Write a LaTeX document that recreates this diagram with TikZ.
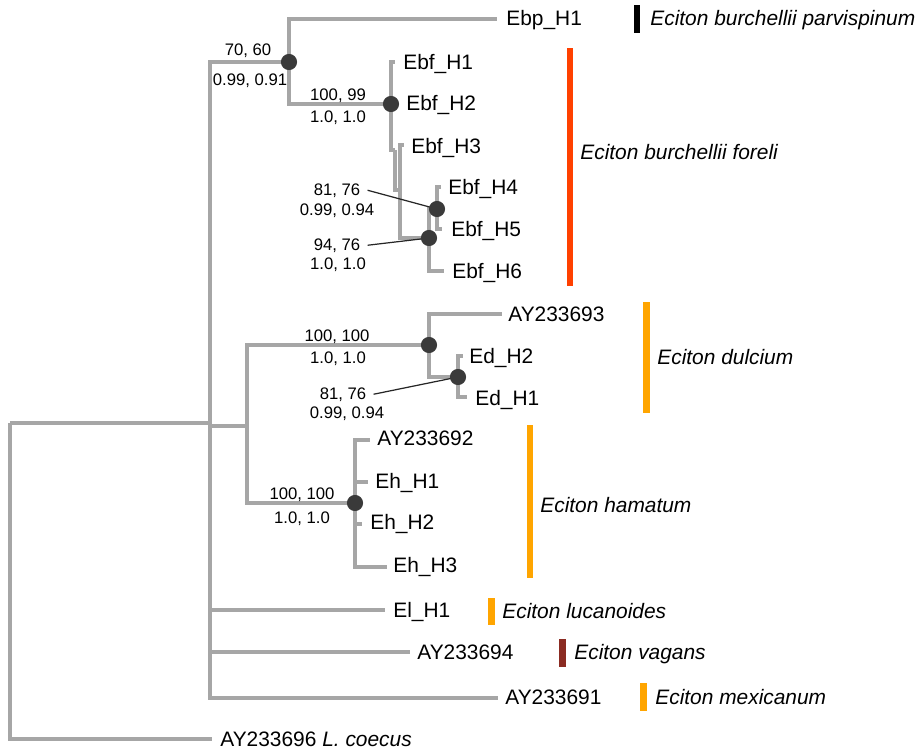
\documentclass[tikz,border=0pt]{standalone}
\usepackage{fontspec}
\setmainfont{Liberation Sans}
\usetikzlibrary{positioning}
\definecolor{brgray}{HTML}{A6A6A6}
\definecolor{dotgray}{HTML}{3A3A3A}
\definecolor{forelired}{HTML}{FF4000}
\definecolor{ecorange}{HTML}{FFA500}
\definecolor{vagred}{HTML}{8B2B22}
\tikzset{
  branch/.style={draw=brgray,line width=2.3pt},
  bsdot/.style={circle,fill=dotgray,inner sep=0pt,minimum size=9.2pt},
  leaf/.style={anchor=base west,inner sep=0pt,font=\fontsize{11.9}{14}\selectfont},
  spec/.style={anchor=base west,inner sep=0pt,font=\fontsize{11.9}{14}\selectfont\itshape},
  bsval/.style={anchor=base,inner sep=2pt,font=\fontsize{9.5}{11}\selectfont},
  lead/.style={draw=black!85,line width=0.7pt},
  cladebar/.style={line width=3.6pt}
}

\begin{document}
\begin{tikzpicture}[x=0.02cm,y=-0.02cm]
\useasboundingbox (0,0) rectangle (918,751);

% internal nodes
\coordinate (rt) at (10,423);
\coordinate (crown) at (210,423);
\coordinate (n7060) at (289,62);
\coordinate (n10099) at (391,104);
\coordinate (s1) at (395,150);
\coordinate (s2) at (400,190);
\coordinate (n9476) at (429,238);
\coordinate (n8176a) at (437,209);
\coordinate (ndh) at (247,426);
\coordinate (n100a) at (429,345);
\coordinate (n8176b) at (458,377);
\coordinate (n100b) at (355,503);

% tips
\foreach \nm/\x/\y in {tEbp/497/19,tEbf1/395/62,tEbf3/404/145,tEbf4/441/187,
  tEbf5/442/229,tEbf6/444/271,tAY3/502/314,tEd2/463/356,tEd1/467/397,
  tAY2/370/440,tEh1/368/482,tEh2/362/524,tEh3/387/567,tEl/385/610,
  tAY4/410/652,tAY1/498/698,tcoe/212/739}
  \coordinate (\nm) at (\x,\y);

% branches
\foreach \p/\c in {rt/crown,rt/tcoe,crown/n7060,crown/ndh,crown/tEl,crown/tAY4,
  crown/tAY1,n7060/tEbp,n7060/n10099,n10099/tEbf1,n10099/s1,s1/s2,s2/tEbf3,
  s2/n9476,n9476/n8176a,n9476/tEbf6,n8176a/tEbf4,n8176a/tEbf5,ndh/n100a,
  ndh/n100b,n100a/tAY3,n100a/n8176b,n8176b/tEd2,n8176b/tEd1,n100b/tAY2,
  n100b/tEh1,n100b/tEh2,n100b/tEh3}
  \draw[branch] (\p) |- (\c);

% support values
\foreach \nm/\x/\y/\t in {u7060/248/55/{70, 60},d7060/250/85/{0.99, 0.91},
  u10099/338/100/{100, 99},d10099/338/122/{1.0, 1.0},
  u8176a/337/195/{81, 76},d8176a/337/215/{0.99, 0.94},
  u9476/337/250/{94, 76},d9476/338/269/{1.0, 1.0},
  u100a/337/341/{100, 100},d100a/338/363/{1.0, 1.0},
  u8176b/343/399/{81, 76},d8176b/347/418/{0.99, 0.94},
  u100b/302/499/{100, 100},d100b/302/523/{1.0, 1.0}}
  \node[bsval] (\nm) at (\x,\y) {\t};

\draw[lead] ([xshift=2pt]u8176a.east) -- (n8176a);
\draw[lead] ([xshift=2pt]u9476.east) -- (n9476);
\draw[lead] ([xshift=2pt]u8176b.east) -- (n8176b);

\foreach \nm in {n7060,n10099,n8176a,n9476,n100a,n8176b,n100b}
  \node[bsdot] (c\nm) at (\nm) {};

% tip labels
\foreach \nm/\x/\y/\t in {lEbp/506/25/{Ebp\_H1},lEbf1/403/69/{Ebf\_H1},
  lEbf2/406/110/{Ebf\_H2},lEbf3/411/153/{Ebf\_H3},lEbf4/448/194/{Ebf\_H4},
  lEbf5/451/236/{Ebf\_H5},lEbf6/452/278/{Ebf\_H6},lAY3/508/321/{AY233693},
  lEd2/469/363/{Ed\_H2},lEd1/475/405/{Ed\_H1},lAY2/377/445/{AY233692},
  lEh1/375/488/{Eh\_H1},lEh2/370/529/{Eh\_H2},lEh3/393/572/{Eh\_H3},
  lEl/393/617/{El\_H1},lAY4/417/659/{AY233694},lAY1/505/704/{AY233691},
  lcoe/220/746/{AY233696 \textit{L. coecus}}}
  \node[leaf] (\nm) at (\x,\y) {\t};

% clade bars
\foreach \nm/\bx/\yt/\yb/\c/\lx/\ly/\t in {
  parv/637/5/33/black/650/25/{Eciton burchellii parvispinum},
  fore/570/48/286/forelired/580/159/{Eciton burchellii foreli},
  dulc/646.5/302/413/ecorange/657/364/{Eciton dulcium},
  hama/530/425/578/ecorange/540/512/{Eciton hamatum},
  luca/491.5/598/625/ecorange/502/618/{Eciton lucanoides},
  vaga/562.5/639/667/vagred/574/659/{Eciton vagans},
  mexi/643.5/683/711/ecorange/655/704/{Eciton mexicanum}}{
  \draw[cladebar,\c] (\bx,\yt) -- (\bx,\yb);
  \node[spec] (s\nm) at (\lx,\ly) {\t};
}
\end{tikzpicture}
\end{document}
